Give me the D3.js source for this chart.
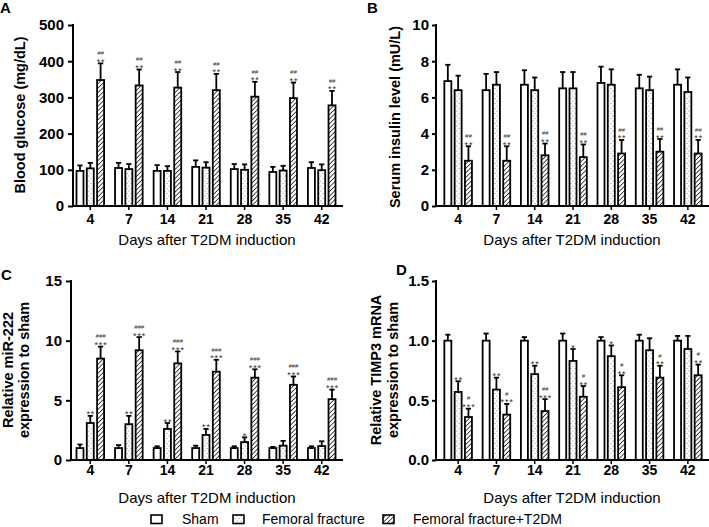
<!DOCTYPE html>
<html><head><meta charset="utf-8">
<script src="https://cdn.jsdelivr.net/npm/d3@7"></script>
<style>
body{margin:0;background:#fff;}
svg{display:block;font-family:"Liberation Sans",Arial,sans-serif;}
</style></head>
<body>
<svg id="chart" width="709" height="527"></svg>
<script>
// ---------- DATA ----------
const days = ["4","7","14","21","28","35","42"];
const seriesNames = ["Sham","Femoral fracture","Femoral fracture+T2DM"];

// Panel A: blood glucose (mg/dL)
const glucoseSham = [97,105,97,108,102,94,105];
const glucoseShamErr = [15,14,16,18,14,14,16];
const glucoseFF = [104,102,97,106,100,98,99];
const glucoseFFErr = [15,14,13,15,15,13,16];
const glucoseT2DM = [348,333,327,320,302,298,278];
const glucoseT2DMErr = [46,44,43,45,41,43,40];
const glucoseFFStars = ["","","","","","",""];
const glucoseFFHash = ["","","","","","",""];
const glucoseT2DMStars = ["**","**","**","**","**","**","**"];
const glucoseT2DMHash = ["##","##","##","##","##","##","##"];

// Panel B: serum insulin (mU/L)
const insulinSham = [6.9,6.4,6.7,6.5,6.8,6.5,6.7];
const insulinShamErr = [0.9,0.9,0.8,0.9,0.9,0.75,0.85];
const insulinFF = [6.4,6.7,6.4,6.5,6.7,6.4,6.3];
const insulinFFErr = [0.8,0.7,0.7,0.9,0.85,0.75,0.8];
const insulinT2DM = [2.5,2.5,2.8,2.7,2.9,3.0,2.9];
const insulinT2DMErr = [0.8,0.8,0.65,0.7,0.75,0.7,0.75];
const insulinFFStars = ["","","","","","",""];
const insulinFFHash = ["","","","","","",""];
const insulinT2DMStars = ["**","**","**","**","**","**","**"];
const insulinT2DMHash = ["##","##","##","##","##","##","##"];

// Panel C: relative miR-222
const mirSham = [1.0,1.0,1.0,1.0,1.0,1.0,1.0];
const mirShamErr = [0.3,0.25,0.15,0.2,0.15,0.1,0.15];
const mirFF = [3.1,3.0,2.6,2.1,1.5,1.2,1.17];
const mirFFErr = [0.6,0.7,0.5,0.5,0.4,0.4,0.4];
const mirT2DM = [8.5,9.2,8.1,7.4,6.9,6.3,5.1];
const mirT2DMErr = [1.0,1.1,1.0,1.0,0.7,0.7,0.8];
const mirFFStars = ["**","**","**","**","*","",""];
const mirFFHash = ["","","","","","",""];
const mirT2DMStars = ["***","***","***","***","***","***","***"];
const mirT2DMHash = ["###","###","###","###","###","###","###"];

// Panel D: relative TIMP3 mRNA
const timpSham = [1.0,1.0,1.0,1.0,1.0,1.0,1.0];
const timpShamErr = [0.05,0.06,0.03,0.06,0.03,0.05,0.04];
const timpFF = [0.57,0.59,0.72,0.83,0.87,0.92,0.93];
const timpFFErr = [0.09,0.1,0.07,0.1,0.09,0.1,0.11];
const timpT2DM = [0.36,0.38,0.41,0.53,0.61,0.69,0.71];
const timpT2DMErr = [0.07,0.09,0.1,0.09,0.1,0.1,0.09];
const timpFFStars = ["**","**","**","*","*","",""];
const timpFFHash = ["","","","","","",""];
const timpT2DMStars = ["***","***","***","**","**","**","**"];
const timpT2DMHash = ["#","#","##","#","#","#","#"];

const xTitle = "Days after T2DM induction";

// ---------- DRAW ----------
const svg = d3.select("#chart");
const defs = svg.append("defs");

const dots = defs.append("pattern").attr("id","dots").attr("patternUnits","userSpaceOnUse")
  .attr("width",4).attr("height",5);
dots.append("rect").attr("width",4).attr("height",5).attr("fill","#fff");
dots.append("circle").attr("cx",1).attr("cy",1).attr("r",0.55).attr("fill","#777");
dots.append("circle").attr("cx",3).attr("cy",3.5).attr("r",0.55).attr("fill","#777");

const hatch = defs.append("pattern").attr("id","hatch").attr("patternUnits","userSpaceOnUse")
  .attr("width",3.2).attr("height",3.2).attr("patternTransform","rotate(45)");
hatch.append("rect").attr("width",3.2).attr("height",3.2).attr("fill","#fff");
hatch.append("line").attr("x1",0).attr("y1",0).attr("x2",0).attr("y2",3.2)
  .attr("stroke","#111").attr("stroke-width",1.5);

const fills = ["#fff","url(#dots)","url(#hatch)"];

function panel(cfg){
  const g = svg.append("g");
  const y = d3.scaleLinear().domain(cfg.domain).range([cfg.yBottom, cfg.yTop]);
  const x = d3.scaleBand().domain(days).range(cfg.bandRange).padding(0);
  const bw = 7, off = 10.3;

  // bars
  cfg.series.forEach((s,si)=>{
    const dx = (si-1)*off;
    days.forEach((d,i)=>{
      const cx = x(d)+x.bandwidth()/2+dx;
      const top = y(s.v[i]), et = y(s.v[i]+s.e[i]);
      g.append("line").attr("x1",cx).attr("x2",cx).attr("y1",top).attr("y2",et)
        .attr("stroke","#000").attr("stroke-width",1.8);
      g.append("line").attr("x1",cx-2.6).attr("x2",cx+2.6).attr("y1",et).attr("y2",et)
        .attr("stroke","#000").attr("stroke-width",1.8);
      g.append("rect").attr("x",cx-bw/2).attr("y",top).attr("width",bw)
        .attr("height",y(0)-top).attr("fill",fills[si]).attr("stroke","#000").attr("stroke-width",1.8);
      const st = s.stars ? s.stars[i] : "";
      const hs = s.hash ? s.hash[i] : "";
      const starY = et + 1.5;
      if(st){
        g.append("text").attr("x",cx+0.5).attr("y",starY).attr("text-anchor","middle")
          .attr("font-size",9).attr("fill","#333").attr("letter-spacing",0.9).text(st);
      }
      if(hs){
        const hy = st ? et-8.2 : et-2.5;
        g.append("text").attr("x",cx).attr("y",hy).attr("text-anchor","middle")
          .attr("font-size",6).attr("font-style","italic").attr("fill","#333").text(hs);
      }
    });
  });

  // y axis
  const ya = g.append("g").attr("transform",`translate(${cfg.xAxis0},0)`)
    .call(d3.axisLeft(y).tickValues(cfg.ticks).tickFormat(cfg.fmt).tickSize(cfg.yTick).tickPadding(cfg.yPad));
  ya.select(".domain").remove();
  ya.append("line").attr("x1",0).attr("x2",0).attr("y1",cfg.yBottom+1).attr("y2",cfg.yTop-1)
    .attr("stroke","#000").attr("stroke-width",2);
  ya.selectAll(".tick line").attr("stroke-width",2);
  ya.selectAll(".tick text").attr("font-size",15).attr("font-weight","bold").attr("fill","#000")
    .attr("font-family","'Liberation Sans',Arial,sans-serif");

  // x axis
  const xa = g.append("g").attr("transform",`translate(0,${cfg.yBottom})`)
    .call(d3.axisBottom(x).tickSize(4).tickPadding(cfg.xPad));
  xa.select(".domain").remove();
  xa.append("line").attr("x1",cfg.xAxis0-1).attr("x2",cfg.xAxis1).attr("y1",0).attr("y2",0)
    .attr("stroke","#000").attr("stroke-width",2);
  xa.selectAll(".tick line").attr("stroke-width",1.5);
  xa.selectAll(".tick text").attr("font-size",14).attr("font-weight","bold").attr("fill","#000")
    .attr("font-family","'Liberation Sans',Arial,sans-serif");

  // x title
  g.append("text").attr("x",cfg.xTitleX).attr("y",cfg.xTitleY).attr("text-anchor","middle")
    .attr("font-size",15).attr("fill","#000").text(xTitle);

  // y title
  cfg.yTitle.forEach((t,k)=>{
    g.append("text").attr("transform",`translate(${cfg.yTitleX[k]},${cfg.yTitleY}) rotate(-90)`)
      .attr("text-anchor","middle").attr("dy","0.35em").attr("font-size",14.5)
      .attr("font-weight","bold").attr("fill","#000").text(t);
  });

  // letter
  g.append("text").attr("x",cfg.letterX).attr("y",cfg.letterY).attr("font-size",15)
    .attr("font-weight","bold").text(cfg.letter);
}

panel({
  letter:"A", letterX:0, letterY:13,
  domain:[0,500], ticks:[0,100,200,300,400,500], fmt:d3.format("d"),
  yTop:25, yBottom:206, xAxis0:73, xAxis1:343, bandRange:[71,341], xPad:4, yTick:5, yPad:4,
  xTitleX:207, xTitleY:245, yTitle:["Blood glucose (mg/dL)"], yTitleX:[20], yTitleY:115,
  series:[
    {v:glucoseSham,e:glucoseShamErr},
    {v:glucoseFF,e:glucoseFFErr,stars:glucoseFFStars,hash:glucoseFFHash},
    {v:glucoseT2DM,e:glucoseT2DMErr,stars:glucoseT2DMStars,hash:glucoseT2DMHash}]
});
panel({
  letter:"B", letterX:367, letterY:13,
  domain:[0,10], ticks:[0,2,4,6,8,10], fmt:d3.format("d"),
  yTop:25, yBottom:206, xAxis0:436, xAxis1:709, bandRange:[439,707], xPad:4, yTick:4, yPad:3,
  xTitleX:572, xTitleY:245, yTitle:["Serum insulin level (mU/L)"], yTitleX:[395], yTitleY:117,
  series:[
    {v:insulinSham,e:insulinShamErr},
    {v:insulinFF,e:insulinFFErr,stars:insulinFFStars,hash:insulinFFHash},
    {v:insulinT2DM,e:insulinT2DMErr,stars:insulinT2DMStars,hash:insulinT2DMHash}]
});
panel({
  letter:"C", letterX:1, letterY:280,
  domain:[0,15], ticks:[0,5,10,15], fmt:d3.format("d"),
  yTop:281, yBottom:460, xAxis0:71, xAxis1:343, bandRange:[71,341], xPad:1, yTick:5, yPad:4,
  xTitleX:207, xTitleY:503, yTitle:["Relative miR-222","expression to sham"], yTitleX:[8,24], yTitleY:370,
  series:[
    {v:mirSham,e:mirShamErr},
    {v:mirFF,e:mirFFErr,stars:mirFFStars,hash:mirFFHash},
    {v:mirT2DM,e:mirT2DMErr,stars:mirT2DMStars,hash:mirT2DMHash}]
});
panel({
  letter:"D", letterX:396, letterY:275,
  domain:[0,1.5], ticks:[0,0.5,1.0,1.5], fmt:d3.format(".1f"),
  yTop:281, yBottom:460, xAxis0:436, xAxis1:709, bandRange:[439,707], xPad:1, yTick:4, yPad:3,
  xTitleX:572, xTitleY:503, yTitle:["Relative TIMP3 mRNA","expression to sham"], yTitleX:[376,393], yTitleY:370,
  series:[
    {v:timpSham,e:timpShamErr},
    {v:timpFF,e:timpFFErr,stars:timpFFStars,hash:timpFFHash},
    {v:timpT2DM,e:timpT2DMErr,stars:timpT2DMStars,hash:timpT2DMHash}]
});

// legend
const legX = [150,232,382];
const legTX = [182,262,413];
const lg = svg.append("g");
seriesNames.forEach((n,i)=>{
  lg.append("rect").attr("x",legX[i]+1).attr("y",515).attr("width",11).attr("height",8.5)
    .attr("fill",fills[i]).attr("stroke","#000").attr("stroke-width",1.6);
  lg.append("text").attr("x",legTX[i]).attr("y",524).attr("font-size",14).attr("fill","#000").text(n);
});
</script>
</body></html>
